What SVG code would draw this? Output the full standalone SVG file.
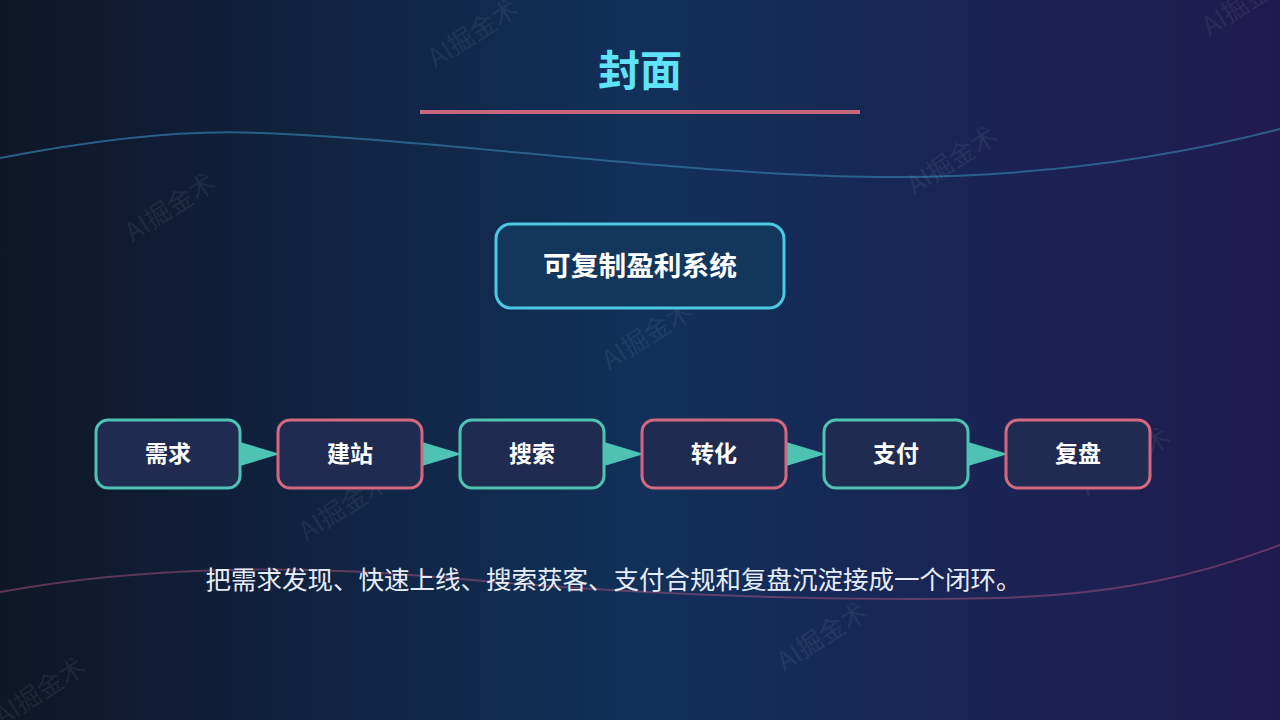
<svg xmlns="http://www.w3.org/2000/svg" width="1280" height="720" viewBox="0 0 1280 720">
<defs>
<linearGradient id="bg" x1="0" y1="0" x2="1" y2="0">
<stop offset="0" stop-color="#0f1627"/>
<stop offset="0.5" stop-color="#12305a"/>
<stop offset="1" stop-color="#201a4f"/>
</linearGradient>
<marker id="arr" viewBox="0 0 40 24" refX="38" refY="12" markerWidth="40" markerHeight="24" markerUnits="userSpaceOnUse" orient="auto">
<polygon points="0,0 40,12 0,24" fill="#4ec3b4"/>
</marker>
<style>
.wm{font-family:"Noto Sans CJK SC","Liberation Sans",sans-serif;font-size:26px;fill:#ffffff;fill-opacity:0.08;text-anchor:middle}
.node rect{fill:#1f2b50;stroke-width:3}
.teal rect{stroke:#4ec3b4}
.pink rect{stroke:#d4687f}
.lbl{font-family:"Noto Sans CJK SC","Liberation Sans",sans-serif;font-weight:bold;fill:#ffffff;text-anchor:middle}
.conn line{stroke:#4ec3b4;stroke-width:2;marker-end:url(#arr)}
</style>
</defs>
<rect width="1280" height="720" fill="url(#bg)"/>
<path d="M0,158 C120,135 200,130 260,133 C450,140 700,178 900,177 C1050,176 1180,155 1280,129" fill="none" stroke="#2f6f9a" stroke-width="2" stroke-opacity="0.8"/>
<path d="M0,592 C150,565 300,565 450,578 C600,592 800,602 1000,598 C1120,594 1200,575 1280,545" fill="none" stroke="#b85a86" stroke-width="2" stroke-opacity="0.45"/>
<g id="watermarks">
<text class="wm" transform="translate(175,215) rotate(-33)">AI掘金术</text>
<text class="wm" transform="translate(478,41) rotate(-33)">AI掘金术</text>
<text class="wm" transform="translate(652,343) rotate(-33)">AI掘金术</text>
<text class="wm" transform="translate(957,168) rotate(-33)">AI掘金术</text>
<text class="wm" transform="translate(349,514) rotate(-33)">AI掘金术</text>
<text class="wm" transform="translate(1130,469) rotate(-33)">AI掘金术</text>
<text class="wm" transform="translate(827,644) rotate(-33)">AI掘金术</text>
<text class="wm" transform="translate(45,699) rotate(-33)">AI掘金术</text>
<text class="wm" transform="translate(1252,9) rotate(-33)">AI掘金术</text>
</g>
<g id="title">
<text x="640" y="86" class="lbl" style="font-size:42px;fill:#5fe3f7">封面</text>
<rect x="420" y="110" width="440" height="4" fill="#c9667e"/>
</g>
<g id="core">
<rect x="496" y="224" width="288" height="84" rx="15" fill="#13375c" stroke="#4cc9e2" stroke-width="3"/>
<text x="640" y="276" class="lbl" style="font-size:27.7px">可复制盈利系统</text>
</g>
<g id="connectors" class="conn">
<line x1="241" y1="454" x2="278" y2="454"/>
<line x1="423" y1="454" x2="460" y2="454"/>
<line x1="605" y1="454" x2="642" y2="454"/>
<line x1="787" y1="454" x2="824" y2="454"/>
<line x1="969" y1="454" x2="1006" y2="454"/>
</g>
<g id="n1" class="node teal"><rect x="96" y="420" width="144" height="68" rx="12"/><text x="168" y="462" class="lbl" style="font-size:23px">需求</text></g>
<g id="n2" class="node pink"><rect x="278" y="420" width="144" height="68" rx="12"/><text x="350" y="462" class="lbl" style="font-size:23px">建站</text></g>
<g id="n3" class="node teal"><rect x="460" y="420" width="144" height="68" rx="12"/><text x="532" y="462" class="lbl" style="font-size:23px">搜索</text></g>
<g id="n4" class="node pink"><rect x="642" y="420" width="144" height="68" rx="12"/><text x="714" y="462" class="lbl" style="font-size:23px">转化</text></g>
<g id="n5" class="node teal"><rect x="824" y="420" width="144" height="68" rx="12"/><text x="896" y="462" class="lbl" style="font-size:23px">支付</text></g>
<g id="n6" class="node pink"><rect x="1006" y="420" width="144" height="68" rx="12"/><text x="1078" y="462" class="lbl" style="font-size:23px">复盘</text></g>
<g id="caption">
<text x="613.5" y="589" style="font-family:'Noto Sans CJK SC','Liberation Sans',sans-serif;font-size:25.5px;fill:#e6edf8;text-anchor:middle">把需求发现、快速上线、搜索获客、支付合规和复盘沉淀接成一个闭环。</text>
</g>
</svg>
